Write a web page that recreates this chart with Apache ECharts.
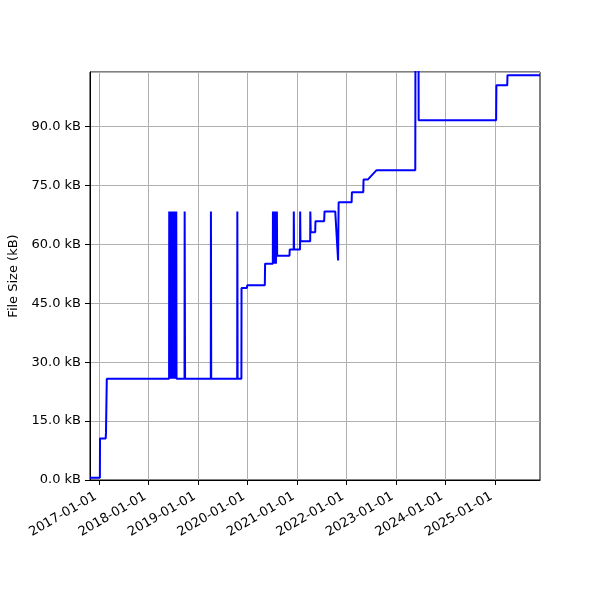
<!DOCTYPE html>
<html lang="en">
<head>
    <meta charset="UTF-8">
    <title>File Size</title>
    <script type="text/javascript" src="https://cdn.jsdelivr.net/npm/echarts@6/dist/echarts.min.js"></script>
    <style>
        html, body { margin: 0; padding: 0; background: #fff; }
        #charts { width: 600px; height: 600px; }
    </style>
</head>
<body>
<div id="charts"></div>
<script>
    // dates of each point
    var dates = [
        '2016-10-25', '2017-01-06', '2017-01-07', '2017-02-18', '2017-02-20', '2017-02-26',
        // spike cluster mid 2018
        '2018-06-01', '2018-06-02', '2018-06-04', '2018-06-08', '2018-06-10', '2018-06-14', '2018-06-16',
        '2018-06-20', '2018-06-22', '2018-06-26', '2018-06-28', '2018-07-03', '2018-07-05',
        '2018-07-10', '2018-07-12', '2018-07-17', '2018-07-19', '2018-07-24', '2018-07-26',
        '2018-09-23', '2018-09-24', '2018-09-27',
        '2019-04-05', '2019-04-06', '2019-04-08',
        '2019-10-17', '2019-10-18', '2019-10-20',
        '2019-11-17', '2019-11-18', '2019-12-28', '2019-12-30',
        '2020-05-08', '2020-05-10',
        '2020-07-06', '2020-07-07', '2020-07-09', '2020-07-17', '2020-07-19', '2020-07-27', '2020-07-29',
        '2020-08-05', '2020-08-07',
        '2020-11-06', '2020-11-08', '2020-12-07', '2020-12-08', '2020-12-10',
        '2021-01-23', '2021-01-24', '2021-01-26',
        '2021-04-08', '2021-04-09', '2021-04-12', '2021-05-15', '2021-05-17',
        '2021-07-20', '2021-07-23', '2021-10-10', '2021-10-31', '2021-11-04',
        '2022-02-08', '2022-02-10', '2022-05-05', '2022-05-07', '2022-06-07', '2022-08-11',
        '2023-05-24', '2023-05-26', '2023-06-16', '2023-06-18',
        '2025-01-10', '2025-01-12', '2025-04-02', '2025-04-04', '2025-11-30'
    ];
    // size in kB at each date
    var sizes = [
        0.6, 0.6, 10.6, 10.6, 12.0, 25.8,
        25.8, 68.4, 25.8, 68.4, 25.8, 68.4, 25.8,
        68.4, 25.8, 68.4, 25.8, 68.4, 25.8,
        68.4, 25.8, 68.4, 25.8, 68.4, 25.8,
        25.8, 68.4, 25.8,
        25.8, 68.4, 25.8,
        25.8, 68.4, 25.8,
        25.8, 48.9, 48.9, 49.6,
        49.6, 55.1,
        55.1, 68.4, 55.1, 68.4, 55.1, 68.4, 55.1,
        68.4, 57.1,
        57.1, 58.7, 58.7, 68.4, 58.7,
        58.7, 68.4, 60.8,
        60.8, 68.4, 63.1, 63.1, 65.9,
        65.9, 68.4, 68.4, 55.9, 70.7,
        70.7, 73.3, 73.3, 76.5, 76.5, 78.9,
        78.9, 125.0, 125.0, 91.6,
        91.6, 100.5, 100.5, 103.1, 103.1
    ];
    // tick labels on the date axis
    var yearTicks = ['2017-01-01', '2018-01-01', '2019-01-01', '2020-01-01', '2021-01-01',
        '2022-01-01', '2023-01-01', '2024-01-01', '2025-01-01'];

    function toTime(s) {
        var p = s.split('-')
        return +new Date(+p[0], +p[1] - 1, +p[2])
    }

    var points = []
    for (var i = 0; i < dates.length; i++) {
        points.push([toTime(dates[i]), sizes[i]])
    }
    var tickValues = yearTicks.map(toTime)

    var font = 'DejaVu Sans'
    var chart = echarts.init(document.getElementById('charts'), null, {renderer: 'canvas'})
    chart.setOption({
        animation: false,
        backgroundColor: '#fff',
        textStyle: {fontFamily: font},
        grid: {
            left: 90, right: 60, top: 72, bottom: 120,
            show: true, borderColor: '#000', borderWidth: 1,
            outerBoundsMode: 'none'
        },
        xAxis: {
            type: 'time',
            min: toTime('2016-10-25'),
            max: toTime('2025-11-30'),
            axisLine: {show: true, lineStyle: {color: '#000', width: 1}},
            axisTick: {show: true, length: 5, customValues: tickValues, lineStyle: {color: '#000'}},
            axisLabel: {
                customValues: tickValues,
                formatter: '{yyyy}-{MM}-{dd}',
                rotate: 30, margin: 13.5,
                padding: [0, 4, 0, 0],
                fontSize: 13, color: '#000', fontFamily: font
            },
            splitLine: {show: true, lineStyle: {color: '#b0b0b0', width: 1}}
        },
        yAxis: {
            type: 'value',
            min: 0, max: 103.9, interval: 15,
            name: 'File Size (kB)',
            nameLocation: 'middle',
            nameGap: 67,
            nameTextStyle: {fontSize: 13, color: '#000', fontFamily: font},
            axisLine: {show: true, lineStyle: {color: '#000', width: 1}},
            axisTick: {show: true, length: 5, lineStyle: {color: '#000'}},
            axisLabel: {
                showMaxLabel: false,
                margin: 9,
                fontSize: 13, color: '#000', fontFamily: font,
                formatter: function (v) { return v % 15 === 0 ? v.toFixed(1) + ' kB' : '' }
            },
            splitLine: {show: true, lineStyle: {color: '#b0b0b0', width: 1}}
        },
        series: [{
            type: 'line',
            data: points,
            showSymbol: false,
            clip: true,
            lineStyle: {color: '#0000ff', width: 2}
        }]
    })
</script>
</body>
</html>
